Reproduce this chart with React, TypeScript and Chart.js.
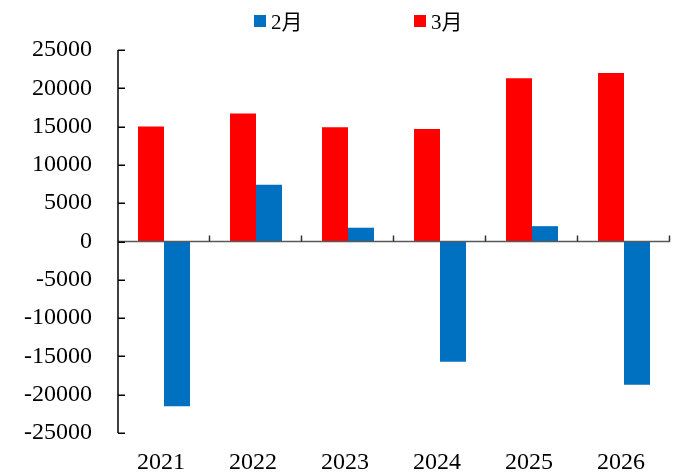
import React, { useEffect, useRef } from "react";
import { Chart, registerables } from "chart.js";

Chart.register(...registerables);

// Data
const categories = ["2021", "2022", "2023", "2024", "2025", "2026"];
const march = [15000, 16700, 14900, 14700, 21300, 22000];
const february = [-21500, 7400, 1800, -15700, 2000, -18700];
const yTicks = [-25000, -20000, -15000, -10000, -5000, 0, 5000, 10000, 15000, 20000, 25000];

const RED = "#FF0000";
const BLUE = "#0070C0";
const FONT = "'Liberation Serif', 'Times New Roman', 'Noto Sans CJK SC', serif";

// Axes drawn above the bars, with inside tick marks, plus a compact legend
const axesAndLegend = {
  id: "axesAndLegend",
  afterDatasetsDraw(chart: any) {
    const { ctx, chartArea, scales } = chart;
    const x = scales.x;
    const y = scales.y;
    const y0 = y.getPixelForValue(0);
    ctx.save();
    // zero line
    ctx.strokeStyle = "#595959";
    ctx.lineWidth = 1.5;
    ctx.beginPath();
    ctx.moveTo(chartArea.left, y0);
    ctx.lineTo(chartArea.right, y0);
    ctx.stroke();
    // category boundary ticks on zero line
    const n = categories.length;
    const step = (x.right - x.left) / n;
    ctx.strokeStyle = "#333";
    ctx.lineWidth = 1.5;
    for (let i = 1; i <= n; i++) {
      const px = Math.round(x.left + i * step) - 0.5;
      ctx.beginPath();
      ctx.moveTo(px, y0);
      ctx.lineTo(px, y0 - 6);
      ctx.stroke();
    }
    // value axis line
    ctx.strokeStyle = "#000";
    ctx.lineWidth = 1.5;
    ctx.beginPath();
    ctx.moveTo(chartArea.left, y.getPixelForValue(yTicks[yTicks.length - 1]));
    ctx.lineTo(chartArea.left, y.getPixelForValue(yTicks[0]));
    ctx.stroke();
    for (const v of yTicks) {
      const py = Math.round(y.getPixelForValue(v)) + 0.25;
      ctx.beginPath();
      ctx.moveTo(chartArea.left, py);
      ctx.lineTo(chartArea.left + 7, py);
      ctx.stroke();
    }
    ctx.restore();
  },
  afterDraw(chart: any) {
    const { ctx } = chart;
    const order = [1, 0];
    const startX = 254;
    const stride = 160;
    const midY = 22;
    const box = 12;
    ctx.save();
    ctx.font = `21px ${FONT}`;
    ctx.textBaseline = "middle";
    ctx.textAlign = "left";
    order.forEach((di, k) => {
      const ds = chart.data.datasets[di];
      const bx = startX + k * stride;
      ctx.fillStyle = ds.backgroundColor;
      ctx.fillRect(bx, midY - box / 2 - 1, box, box);
      ctx.fillStyle = "#000";
      ctx.fillText(ds.label, bx + box + 5, midY + 1);
    });
    ctx.restore();
  },
};

export default function App() {
  const ref = useRef<HTMLCanvasElement | null>(null);

  useEffect(() => {
    if (!ref.current) return;
    const chart = new Chart(ref.current, {
      type: "bar",
      data: {
        labels: categories,
        datasets: [
          { label: "3月", data: march, backgroundColor: RED, borderWidth: 0 },
          { label: "2月", data: february, backgroundColor: BLUE, borderWidth: 0 },
        ],
      },
      options: {
        responsive: false,
        animation: false,
        layout: { padding: { top: 50, left: 24, right: 3, bottom: 0 } },
        plugins: {
          legend: { display: false },
          tooltip: { enabled: false },
        },
        datasets: {
          bar: { categoryPercentage: 0.565, barPercentage: 1 },
        },
        scales: {
          x: {
            grid: { display: false, drawTicks: false },
            border: { display: false },
            afterFit: (axis: any) => {
              axis.height = 41;
            },
            ticks: {
              color: "#000",
              padding: 18,
              labelOffset: -3,
              maxRotation: 0,
              font: { family: FONT, size: 24, lineHeight: 1 },
            },
          },
          y: {
            min: -25000,
            max: 25000,
            grid: { display: false, drawTicks: false },
            border: { display: false },
            afterBuildTicks: (axis: any) => {
              axis.ticks = yTicks.map((v) => ({ value: v }));
            },
            afterFit: (axis: any) => {
              axis.width = 94;
            },
            ticks: {
              color: "#000",
              padding: 26,
              callback: (v: any) => String(v),
              font: { family: FONT, size: 24, lineHeight: 1 },
            },
          },
        },
      },
      plugins: [axesAndLegend],
    });
    return () => chart.destroy();
  }, []);

  return (
    <div style={{ position: "fixed", left: 0, top: 0, width: 673, height: 474, background: "#fff" }}>
      <canvas ref={ref} width={673} height={474} />
    </div>
  );
}
